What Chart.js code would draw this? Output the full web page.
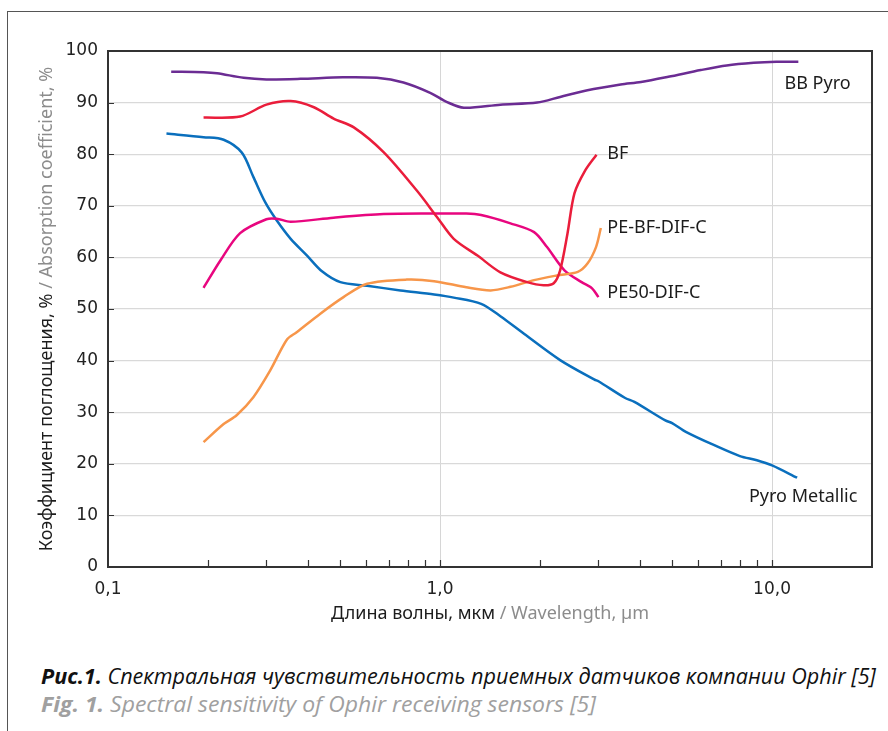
<!DOCTYPE html>
<html>
<head>
<meta charset="utf-8">
<script src="https://cdn.jsdelivr.net/npm/chart.js@4.4.1/dist/chart.umd.min.js"></script>
<style>
  html, body { margin: 0; padding: 0; background: #fff; width: 888px; height: 731px; overflow: hidden; }
  #frame { position: absolute; left: 7px; top: 11px; width: 900px; height: 740px;
           border-left: 1.5px solid #555; border-top: 1.5px solid #555; }
  #wrap { position: absolute; left: 0; top: 0; width: 888px; height: 650px; }
  .cap { position: absolute; left: 41px; white-space: nowrap; font-family: "Open Sans", sans-serif;
         font-style: italic; font-size: 22px; line-height: 26px; transform-origin: 0 50%; }
  #cap1 { top: 662px; color: #111; }
  #cap2 { top: 690px; color: #a0a0a0; }
</style>
</head>
<body>
<div id="frame"></div>
<div id="wrap"><canvas id="c" width="888" height="650"></canvas></div>
<div class="cap" id="cap1" data-w="835"><b>Рис.1.</b> Спектральная чувствительность приемных датчиков компании Ophir [5]</div>
<div class="cap" id="cap2" data-w="555"><b>Fig. 1.</b> Spectral sensitivity of Ophir receiving sensors [5]</div>
<script>
// Wavelengths (µm) and absorption coefficients (%) for each sensor
const bbPyroWl  = [0.155, 0.194, 0.213, 0.256, 0.30, 0.38, 0.51, 0.645, 0.776, 0.934, 1.05, 1.18, 1.52, 1.96, 2.3, 2.78, 3.5, 4.03, 4.87, 6.1, 7.3, 8.8, 10.3, 12.0];
const bbPyroVal = [96.0, 95.9, 95.7, 94.8, 94.5, 94.6, 94.9, 94.8, 93.9, 91.9, 90.1, 89.0, 89.6, 90.0, 91.1, 92.4, 93.5, 94.0, 95.0, 96.3, 97.2, 97.7, 97.9, 97.9];

const bfWl  = [0.194, 0.25, 0.30, 0.355, 0.417, 0.478, 0.55, 0.676, 0.85, 0.98, 1.1, 1.3, 1.52, 1.83, 2.05, 2.2, 2.3, 2.42, 2.54, 2.74, 2.96];
const bfVal = [87.1, 87.3, 89.6, 90.3, 89.1, 86.9, 85.2, 80.4, 73.0, 67.8, 63.6, 60.3, 57.1, 55.2, 54.6, 55.0, 57.5, 64.6, 72.4, 76.9, 79.9];

const pe50Wl  = [0.194, 0.218, 0.25, 0.30, 0.322, 0.355, 0.478, 0.676, 0.96, 1.2, 1.33, 1.63, 1.92, 2.1, 2.37, 2.67, 2.87, 3.0];
const pe50Val = [54.1, 59.4, 64.7, 67.4, 67.5, 66.9, 67.7, 68.4, 68.5, 68.5, 68.2, 66.6, 64.9, 62.0, 57.5, 55.2, 54.0, 52.3];

const peBfWl  = [0.194, 0.223, 0.244, 0.274, 0.308, 0.346, 0.37, 0.436, 0.512, 0.603, 0.794, 0.96, 1.2, 1.42, 1.63, 1.92, 2.25, 2.6, 2.78, 2.95, 3.05];
const peBfVal = [24.2, 27.7, 29.4, 32.9, 38.1, 44.1, 45.5, 49.1, 52.3, 54.9, 55.7, 55.4, 54.2, 53.6, 54.3, 55.6, 56.5, 57.2, 58.8, 62.0, 65.7];

const metalWl  = [0.150, 0.194, 0.223, 0.253, 0.274, 0.298, 0.322, 0.355, 0.397, 0.441, 0.501, 0.603, 0.76, 0.96, 1.1, 1.33, 1.52, 1.79, 2.3, 2.92, 3.0, 3.6, 3.85, 4.77, 5.0, 5.5, 6.7, 8.0, 9.0, 10.0, 11.9];
const metalVal = [84.0, 83.3, 82.8, 80.3, 75.6, 70.6, 67.2, 63.6, 60.4, 57.3, 55.2, 54.5, 53.6, 52.8, 52.2, 51.0, 48.6, 45.2, 40.1, 36.3, 36.0, 32.8, 32.0, 28.4, 27.9, 26.2, 23.6, 21.5, 20.7, 19.7, 17.3];

const seriesNames = ['BB Pyro', 'BF', 'PE-BF-DIF-C', 'PE50-DIF-C', 'Pyro Metallic'];

// Axis ticks
const xLabelTicks = [0.1, 1, 10];
const xMinorTicks = [0.2, 0.3, 0.4, 0.5, 0.6, 0.7, 0.8, 0.9, 1, 2, 3, 4, 5, 6, 7, 8, 9, 10];
const yTicks = [0, 10, 20, 30, 40, 50, 60, 70, 80, 90, 100];

const colors = ['#6b2c93', '#ea1d3b', '#f7964a', '#e8067f', '#0a6fbd'];
// Where each series name is written (data units)
const nameAnchors = [[10.9, 93.7], [3.19, 80.0], [3.19, 65.7], [3.19, 53.1], [8.52, 13.6]];

const toPoints = (xs, ys) => xs.map((x, i) => ({ x, y: ys[i] }));
const seriesData = [
  toPoints(bbPyroWl, bbPyroVal),
  toPoints(bfWl, bfVal),
  toPoints(peBfWl, peBfVal),
  toPoints(pe50Wl, pe50Val),
  toPoints(metalWl, metalVal)
];

const LABEL_FONT = '18px "Noto Sans", sans-serif';
const TEXT_DARK = '#1c1c1c';
const TEXT_GREY = '#8c8c8c';

function drawTwoTone(ctx, parts, cx, cy, rotate) {
  ctx.save();
  ctx.font = LABEL_FONT;
  ctx.textBaseline = 'middle';
  ctx.textAlign = 'left';
  const total = parts.reduce((s, p) => s + ctx.measureText(p[0]).width, 0);
  ctx.translate(cx, cy);
  if (rotate) ctx.rotate(-Math.PI / 2);
  let x = -total / 2;
  for (const [txt, col] of parts) {
    ctx.fillStyle = col;
    ctx.fillText(txt, x, 0);
    x += ctx.measureText(txt).width;
  }
  ctx.restore();
}

const decorations = {
  id: 'decorations',
  afterDatasetsDraw(chart) {
    const { ctx, chartArea: a, scales: { x, y } } = chart;
    ctx.save();
    ctx.strokeStyle = '#333';
    ctx.lineWidth = 1.2;
    ctx.beginPath();
    yTicks.slice(1, -1).forEach(v => {
      const py = Math.round(y.getPixelForValue(v)) + 0.5;
      ctx.moveTo(a.left, py); ctx.lineTo(a.left + 6, py);
    });
    xMinorTicks.forEach(v => {
      const px = Math.round(x.getPixelForValue(v)) + 0.5;
      ctx.moveTo(px, a.bottom); ctx.lineTo(px, a.bottom - 7);
    });
    ctx.stroke();
    ctx.lineWidth = 2;
    ctx.strokeStyle = '#333';
    ctx.strokeRect(a.left, a.top, a.right - a.left, a.bottom - a.top);
    ctx.restore();
  },
  afterDraw(chart) {
    const { ctx, chartArea: a, scales: { x, y } } = chart;
    ctx.save();
    ctx.font = LABEL_FONT;
    ctx.fillStyle = TEXT_DARK;
    ctx.textBaseline = 'middle';
    ctx.textAlign = 'left';
    seriesNames.forEach((name, i) => {
      const [vx, vy] = nameAnchors[i];
      ctx.fillText(name, x.getPixelForValue(vx), y.getPixelForValue(vy));
    });
    ctx.restore();
    drawTwoTone(ctx, [['Длина волны, мкм ', TEXT_DARK], ['/ Wavelength, µm', TEXT_GREY]],
      (a.left + a.right) / 2, a.bottom + 47, false);
    drawTwoTone(ctx, [['Коэффициент поглощения, % ', TEXT_DARK], ['/ Absorption coefficient, %', TEXT_GREY]],
      47, (a.top + a.bottom) / 2, true);
  }
};

const tickFont = { family: '"DejaVu Sans", sans-serif', size: 17 };

new Chart(document.getElementById('c'), {
  type: 'line',
  data: {
    datasets: seriesData.map((d, i) => ({
      label: seriesNames[i],
      data: d,
      borderColor: colors[i],
      backgroundColor: colors[i],
      borderWidth: 2.5,
      pointRadius: 0,
      fill: false,
      tension: 0.3
    }))
  },
  options: {
    responsive: false,
    animation: false,
    layout: { padding: { left: 0, right: 16, top: 51, bottom: 0 } },
    plugins: { legend: { display: false }, tooltip: { enabled: false } },
    scales: {
      x: {
        type: 'logarithmic',
        min: 0.1,
        max: 20,
        afterBuildTicks: s => { s.ticks = xLabelTicks.map(v => ({ value: v })); },
        afterFit: s => { s.height = 83; },
        ticks: {
          autoSkip: false, maxRotation: 0, padding: 12,
          font: tickFont, color: '#222',
          callback: v => Number(v).toFixed(1).replace('.', ',')
        },
        grid: { drawTicks: false, color: c => (c.tick && c.tick.value === 0.1) ? 'rgba(0,0,0,0)' : '#d6d6d6', lineWidth: 1 },
        border: { display: false }
      },
      y: {
        min: 0,
        max: 100,
        afterBuildTicks: s => { s.ticks = yTicks.map(v => ({ value: v })); },
        afterFit: s => { s.width = 108; },
        ticks: { padding: 10, font: tickFont, color: '#222' },
        grid: { drawTicks: false, color: '#d9d9d9', lineWidth: 1.2 },
        border: { display: false }
      }
    }
  },
  plugins: [decorations]
});

// Condense the caption lines to their set widths
document.querySelectorAll('.cap').forEach(el => {
  const target = parseFloat(el.dataset.w);
  el.style.transform = 'scaleX(' + (target / el.offsetWidth) + ')';
});
</script>
</body>
</html>
